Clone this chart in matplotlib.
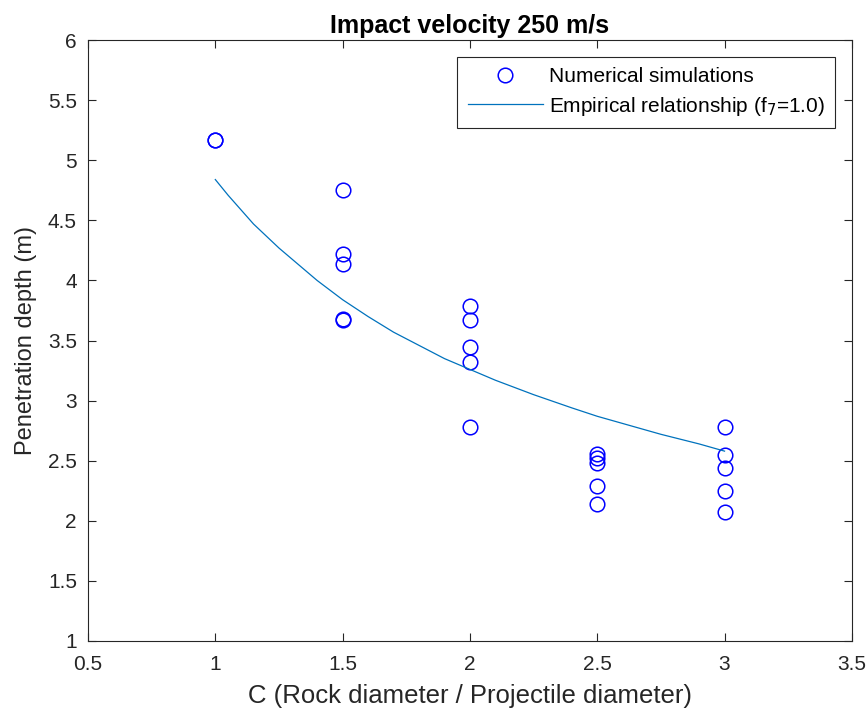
import numpy as np
import matplotlib.pyplot as plt

plt.rcParams['font.family'] = ['Liberation Sans', 'DejaVu Sans']

# numerical simulation results
sim_c = [1.0, 1.0,
         1.5, 1.5, 1.5, 1.5, 1.5,
         2.0, 2.0, 2.0, 2.0, 2.0,
         2.5, 2.5, 2.5, 2.5, 2.5,
         3.0, 3.0, 3.0, 3.0, 3.0]
sim_depth = [5.17, 5.17,
             4.75, 4.22, 4.14, 3.68, 3.67,
             3.79, 3.67, 3.45, 3.32, 2.78,
             2.56, 2.52, 2.48, 2.29, 2.14,
             2.78, 2.55, 2.44, 2.25, 2.07]

# empirical curve
emp_c = [1.0, 1.05, 1.1, 1.15, 1.2, 1.25, 1.3, 1.35, 1.4, 1.45, 1.5, 1.6,
         1.7, 1.8, 1.9, 2.0, 2.1, 2.25, 2.4, 2.5, 2.6, 2.75, 2.9, 3.0]
emp_depth = [4.84, 4.71, 4.59, 4.47, 4.37, 4.27, 4.18, 4.09, 4.00, 3.92, 3.84, 3.70,
             3.57, 3.46, 3.35, 3.26, 3.17, 3.05, 2.94, 2.87, 2.81, 2.72, 2.64, 2.58]

fig = plt.figure(figsize=(8.68, 7.17), dpi=100)
ax = fig.add_axes([0.1014, 0.106, 0.880, 0.838])

ax.plot(sim_c, sim_depth, 'o', markersize=10.5, markerfacecolor='none',
        markeredgecolor=(0, 0, 1), markeredgewidth=1.1, label='Numerical simulations')
ax.plot(emp_c, emp_depth, '-', color=(0, 0.447, 0.741), linewidth=0.9,
        label='Empirical relationship (f$_7$=1.0)')

ax.set_xlim(0.5, 3.5)
ax.set_ylim(1, 6)
ax.set_xticks(np.arange(0.5, 3.51, 0.5))
ax.set_yticks(np.arange(1, 6.01, 0.5))
ax.set_xticklabels(['0.5', '1', '1.5', '2', '2.5', '3', '3.5'])
ax.set_yticklabels(['1', '1.5', '2', '2.5', '3', '3.5', '4', '4.5', '5', '5.5', '6'])
ax.tick_params(direction='in', top=True, right=True, length=6, width=0.8,
               labelsize=15, colors='#262626')
ax.tick_params(axis='x', pad=10)
ax.tick_params(axis='y', pad=8)
for s in ax.spines.values():
    s.set_linewidth(0.8)
    s.set_color('#262626')

ax.set_xlabel('C (Rock diameter / Projectile diameter)', fontsize=18.5,
              color='#262626', labelpad=7)
ax.set_ylabel('Penetration depth (m)', fontsize=17, color='#262626', labelpad=8)
ax.set_title('Impact velocity 250 m/s', fontsize=18, fontweight='bold', pad=5)

leg = ax.legend(loc='upper right', fontsize=15, fancybox=False, framealpha=1,
                edgecolor='#262626', borderaxespad=0.8, handlelength=3.6,
                borderpad=0.5, labelspacing=0.4, handletextpad=0.3)
leg.get_frame().set_linewidth(0.8)

fig.savefig('out.png', dpi=100)
